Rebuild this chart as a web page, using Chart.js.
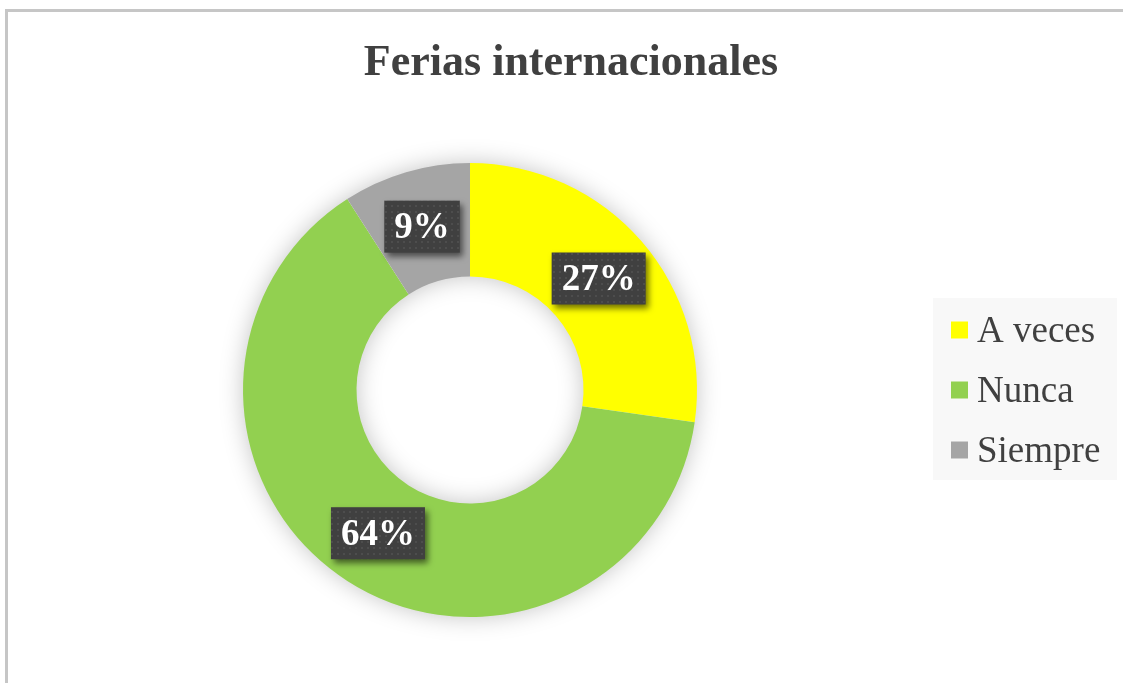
<!DOCTYPE html>
<html>
<head>
<meta charset="utf-8">
<script src="https://cdn.jsdelivr.net/npm/chart.js@4"></script>
<style>
  html, body { margin: 0; padding: 0; background: #fff; }
  #wrap { position: relative; width: 1123px; height: 683px; overflow: hidden; }
  #frame { position: absolute; left: 5px; top: 9px; width: 1140px; height: 700px;
           border-left: 3px solid #c6c6c6; border-top: 3px solid #c6c6c6; }
  canvas { position: absolute; left: 0; top: 0; }
</style>
</head>
<body>
<div id="wrap">
  <div id="frame"></div>
  <canvas id="chart" width="1123" height="683"></canvas>
</div>
<script>
// data (counts: 3 of 11, 7 of 11, 1 of 11 -> 27%, 64%, 9%)
const chartTitle = 'Ferias internacionales';
const categories = ['A veces', 'Nunca', 'Siempre'];
const values = [3, 7, 1];
const colors = ['#FFFF00', '#92D050', '#A5A5A5'];

const SERIF = '"Liberation Serif", "Times New Roman", serif';
const TEXT = '#404040';

// dotted dark fill for the label boxes
function dotPattern(ctx){
  const c = document.createElement('canvas');
  c.width = 6; c.height = 6;
  const g = c.getContext('2d');
  g.fillStyle = '#404040'; g.fillRect(0, 0, 6, 6);
  g.fillStyle = '#4d4d4d'; g.fillRect(1, 1, 2, 2);
  return ctx.createPattern(c, 'repeat');
}

// soft shadow around the ring
const ringShadow = {
  id: 'ringShadow',
  beforeDatasetsDraw(chart){
    const arc = chart.getDatasetMeta(0).data[0];
    if(!arc) return;
    const {x, y, outerRadius, innerRadius} = arc.getProps(['x','y','outerRadius','innerRadius'], true);
    const ctx = chart.ctx;
    ctx.save();
    ctx.beginPath();
    ctx.arc(x, y, outerRadius - 1, 0, Math.PI * 2);
    ctx.arc(x, y, innerRadius + 1, 0, Math.PI * 2, true);
    ctx.fillStyle = '#fff';
    ctx.shadowColor = 'rgba(0,0,0,0.25)';
    ctx.shadowBlur = 24;
    ctx.fill();
    ctx.restore();
  }
};

// percentage labels in dark boxes, title and legend
const decor = {
  id: 'decor',
  afterDatasetsDraw(chart){
    const ctx = chart.ctx;
    const pat = dotPattern(ctx);
    const total = values.reduce((a, b) => a + b, 0);
    ctx.save();
    ctx.font = 'bold 37px ' + SERIF;
    chart.getDatasetMeta(0).data.forEach((arc, i) => {
      const p = arc.tooltipPosition();
      const txt = Math.round(values[i] / total * 100) + '%';
      const w = ctx.measureText(txt).width + 20, h = 52;
      ctx.save();
      ctx.shadowColor = 'rgba(0,0,0,0.55)';
      ctx.shadowBlur = 6; ctx.shadowOffsetX = 3; ctx.shadowOffsetY = 4;
      ctx.fillStyle = pat;
      ctx.fillRect(p.x - w / 2, p.y - h / 2, w, h);
      ctx.restore();
      ctx.fillStyle = '#fff';
      ctx.textAlign = 'center';
      ctx.textBaseline = 'middle';
      ctx.fillText(txt, p.x, p.y + 2);
    });
    ctx.restore();
  },
  afterDraw(chart){
    const ctx = chart.ctx;
    ctx.save();
    // title
    ctx.fillStyle = TEXT;
    ctx.font = 'bold 44px ' + SERIF;
    ctx.textAlign = 'center';
    ctx.textBaseline = 'middle';
    ctx.fillText(chartTitle, 571, 64);
    // legend
    ctx.fillStyle = '#f8f8f8';
    ctx.fillRect(933, 298, 184, 182);
    ctx.font = '37px ' + SERIF;
    ctx.textAlign = 'left';
    categories.forEach((c, i) => {
      const cy = 330 + i * 60;
      ctx.fillStyle = colors[i];
      ctx.fillRect(951, cy - 8.5, 17, 17);
      ctx.fillStyle = TEXT;
      ctx.fillText(c, 977, cy + 2);
    });
    ctx.restore();
  }
};

new Chart(document.getElementById('chart'), {
  type: 'doughnut',
  data: {
    labels: categories,
    datasets: [{
      data: values,
      backgroundColor: colors,
      borderWidth: 0,
      hoverOffset: 0
    }]
  },
  options: {
    responsive: false,
    animation: false,
    events: [],
    cutout: '50%',
    layout: { padding: { left: 243, right: 426, top: 163, bottom: 66 } },
    plugins: {
      legend: { display: false },
      title: { display: false },
      tooltip: { enabled: false }
    }
  },
  plugins: [ringShadow, decor]
});
</script>
</body>
</html>
